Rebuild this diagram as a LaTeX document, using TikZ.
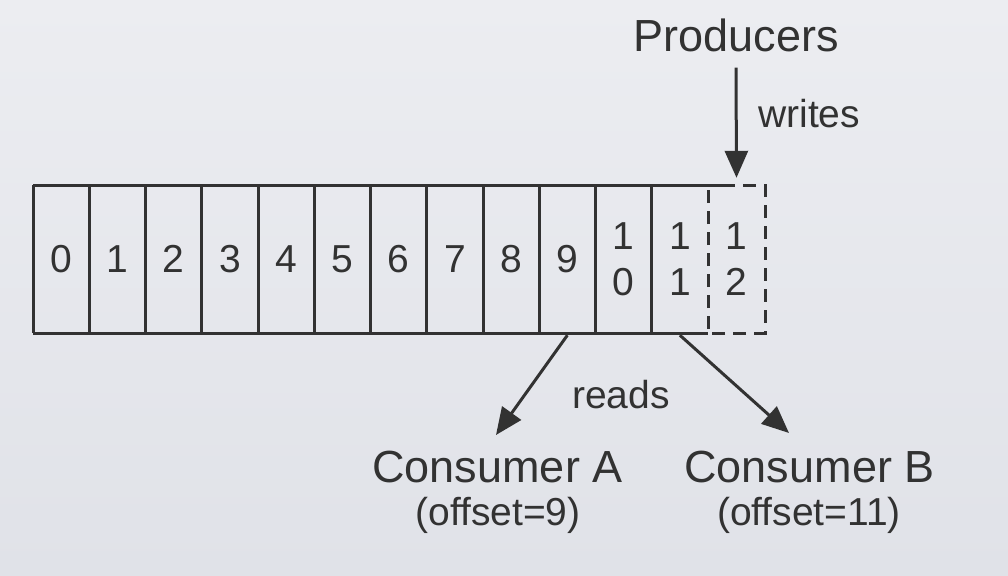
\documentclass[tikz,border=0pt]{standalone}
\usepackage{fontspec}
\setmainfont{Liberation Sans}
\usetikzlibrary{arrows.meta}
\definecolor{ink}{HTML}{323232}
\definecolor{bgtop}{HTML}{ECEDF1}
\definecolor{bgbot}{HTML}{E0E2E8}
\begin{document}
\begin{tikzpicture}[x=1pt,y=-1pt,
  gridline/.style={draw=ink,line width=3pt},
  dashline/.style={draw=ink,line width=3pt,dash pattern=on 13pt off 8pt},
  big/.style={text=ink,font=\fontsize{45}{54}\selectfont,inner sep=0pt,anchor=base},
  mid/.style={text=ink,font=\fontsize{39}{47}\selectfont,inner sep=0pt,anchor=base},
  cellbox/.style={text=ink,font=\fontsize{39}{46}\selectfont,inner sep=0pt,
    minimum width=56.25pt,minimum height=148pt,align=center},
  arr/.style={draw=ink,line width=3pt,-{Triangle[length=27pt,width=23pt]}}]
\shade[top color=bgtop,bottom color=bgbot] (0,0) rectangle (1008,575);
\useasboundingbox (0,0) rectangle (1008,575);
% cells
\foreach \i in {0,...,9}
  \node[cellbox] (cell\i) at ({61.125+56.25*\i},259) {\i};
\node[cellbox] (cell10) at ({61.125+56.25*10},259) {1\\0};
\node[cellbox] (cell11) at ({61.125+56.25*11},259) {1\\1};
\node[cellbox,minimum width=57pt] (cell12) at (736.5,259) {1\\2};
% grid
\draw[gridline] (33,185) -- (722,185);
\draw[gridline] (33,333) -- (708,333);
\foreach \k in {0,...,11}
  \draw[gridline] ({33+56.25*\k},185) -- ({33+56.25*\k},333);
\draw[dashline] (722,185) -- (765,185) -- (765,333) -- (708,333) -- (708,185);
% producers
\node[big] (prod) at (736,52) {Producers};
\node[mid,anchor=base west] (writes) at (758,128) {writes};
\draw[arr] ([yshift=-15pt]prod.south) -- ([yshift=7pt]cell12.north);
% consumers
\node[big] (consA) at (497.5,482) {Consumer A};
\node[mid] (offA) at (498,525) {(offset=9)};
\node[big] (consB) at (809.5,482) {Consumer B};
\node[mid] (offB) at (809,525) {(offset=11)};
\node[mid] (reads) at (621,408) {reads};
\coordinate (tipA) at (496,435);
\coordinate (tipB) at (789,433);
\draw[arr] ([yshift=-2pt]cell9.south) -- (tipA);
\draw[arr] ([yshift=-2pt]cell11.south) -- (tipB);
\end{tikzpicture}
\end{document}
